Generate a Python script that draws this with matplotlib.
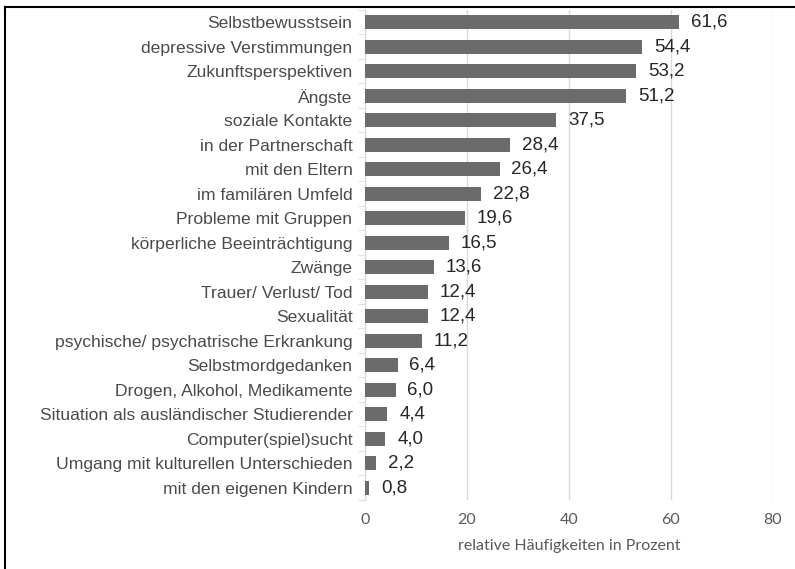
import matplotlib.pyplot as plt
from matplotlib.lines import Line2D
import numpy as np

kategorien = ["Selbstbewusstsein", "depressive Verstimmungen", "Zukunftsperspektiven",
              "Ängste", "soziale Kontakte", "in der Partnerschaft", "mit den Eltern",
              "im familären Umfeld", "Probleme mit Gruppen", "körperliche Beeinträchtigung",
              "Zwänge", "Trauer/ Verlust/ Tod", "Sexualität",
              "psychische/ psychatrische Erkrankung", "Selbstmordgedanken",
              "Drogen, Alkohol, Medikamente", "Situation als ausländischer Studierender",
              "Computer(spiel)sucht", "Umgang mit kulturellen Unterschieden",
              "mit den eigenen Kindern"]
werte = [61.6, 54.4, 53.2, 51.2, 37.5, 28.4, 26.4, 22.8, 19.6, 16.5,
         13.6, 12.4, 12.4, 11.2, 6.4, 6.0, 4.4, 4.0, 2.2, 0.8]
xticks = [0, 20, 40, 60, 80]

fig = plt.figure(figsize=(7.95, 5.69), dpi=100)
ax = fig.add_axes([365/795, 1-500/569, (773-365)/795, 490/569])

y = np.arange(len(kategorien))
ax.barh(y, werte, height=0.57, color="#6b6b6b", zorder=3)
for yi, v in zip(y, werte):
	ax.text(v + 2.3, yi, "{:.1f}".format(v).replace(".", ","), va="center", ha="left",
	        fontsize=13.5, family="Liberation Sans", color="#262626")

ax.set_ylim(len(kategorien) - 0.5, -0.5)
ax.set_xlim(0, 80)
ax.set_yticks(y)
ax.set_yticklabels(kategorien, fontsize=12.6, family="Liberation Sans", color="#4a4a4a")
ax.set_yticks(np.arange(len(kategorien) + 1) - 0.5, minor=True)
ax.tick_params(axis="y", which="major", length=0, pad=9)
ax.tick_params(axis="y", which="minor", length=5, color="#d9d9d9")
ax.set_xticks(xticks)
ax.set_xticklabels([str(t) for t in xticks], fontsize=11.5, family="Lato", color="#595959")
ax.tick_params(axis="x", length=0, pad=9)
ax.grid(axis="x", color="#d9d9d9", linewidth=1, zorder=0)
ax.set_xlabel("relative Häufigkeiten in Prozent", fontsize=11.5, family="Lato",
              color="#595959", labelpad=9)

for s in ["top", "right", "bottom"]:
	ax.spines[s].set_visible(False)
ax.spines["left"].set_color("#d9d9d9")

# Rahmen oben und links
fig.add_artist(Line2D([5/795, 5/795], [0, 1-7/569], color="black", linewidth=1.5))
fig.add_artist(Line2D([5/795, 1], [1-7/569, 1-7/569], color="black", linewidth=1.5))

plt.savefig("out.png", dpi=100)
plt.close()
